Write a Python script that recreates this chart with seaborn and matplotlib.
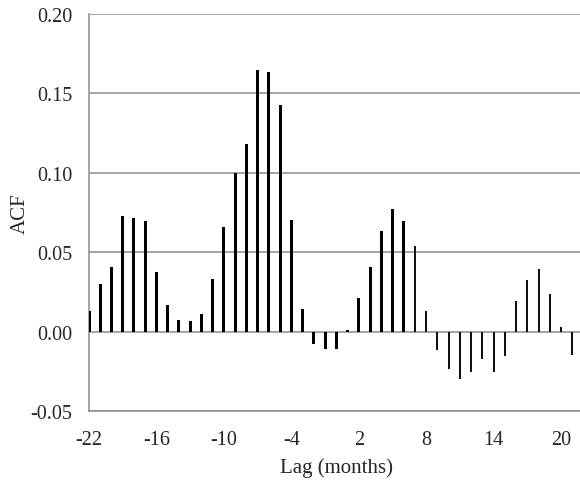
import numpy as np
import pandas as pd
import matplotlib
matplotlib.use("Agg")
import matplotlib.pyplot as plt
import seaborn as sns

lags = list(range(-22, 22))
acf = [0.0132, 0.0299, 0.0406, 0.0732, 0.0715, 0.0697, 0.0377, 0.0167, 0.0077, 0.0071,
       0.0115, 0.0335, 0.0661, 0.1002, 0.1180, 0.1646, 0.1638, 0.1427, 0.0705, 0.0142,
       -0.0077, -0.0111, -0.0111, 0.0010, 0.0213, 0.0408, 0.0634, 0.0772, 0.0697, 0.0540,
       0.0133, -0.0113, -0.0233, -0.0294, -0.0250, -0.0171, -0.0250, -0.0154, 0.0196, 0.0327,
       0.0398, 0.0240, 0.0029, -0.0146]
xticks = [-22, -16, -10, -4, 2, 8, 14, 20]
yticks = [-0.05, 0.00, 0.05, 0.10, 0.15, 0.20]

df = pd.DataFrame({"lag": lags, "acf": acf})

sns.set_style("white")
plt.rcParams['font.family'] = ['Liberation Serif', 'DejaVu Serif']

fig = plt.figure(figsize=(5.8, 4.81), dpi=100)
ax = fig.add_axes([89/580, 1-412.3/481, (583.6-89)/580, (412.3-15)/481])

for y in yticks:
    ax.axhline(y, color="#8c8c8c", lw=1.1, zorder=0)

thick = df[df["lag"] <= 6]
thin = df[df["lag"] >= 7]
sns.barplot(data=thick, x="lag", y="acf", native_scale=True, width=0.27,
            color="black", saturation=1, ax=ax, linewidth=0, zorder=3)
sns.barplot(data=thin, x="lag", y="acf", native_scale=True, width=0.18,
            color="#111111", saturation=1, ax=ax, linewidth=0, zorder=3)

ax.set_xlim(-22, 22)
ax.set_ylim(-0.05, 0.20)
ax.set_xticks(xticks)
ax.set_xticklabels([str(t) for t in xticks])
ax.set_yticks(yticks)
ax.set_yticklabels([f"{t:.2f}" for t in yticks])
ax.tick_params(axis="x", direction="in", length=5, color="#8c8c8c", labelsize=14.5, pad=13.5)
ax.tick_params(axis="y", length=0, labelsize=14.5, pad=12)
for s in ["top", "right"]:
    ax.spines[s].set_visible(False)
for s in ["left", "bottom"]:
    ax.spines[s].set_color("#8c8c8c")
    ax.spines[s].set_linewidth(1.1)
ax.set_xlabel("Lag (months)", fontsize=15, labelpad=6)
ax.set_ylabel("ACF", fontsize=15, va="center")
ax.yaxis.set_label_coords(-0.1395, 0.5)
ax.grid(False)

fig.savefig("out.png", dpi=100)
